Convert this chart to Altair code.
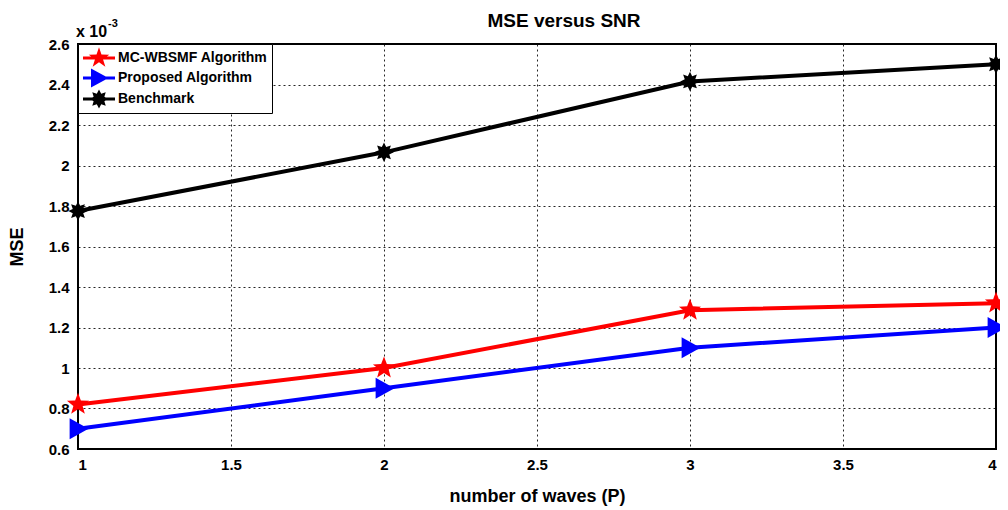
import math
import altair as alt
import pandas as pd

# ---- data (MSE in units of 1e-3) ----
waves = [1, 2, 3, 4]
mc_wbsmf = [0.82, 1.00, 1.285, 1.32]
proposed = [0.70, 0.90, 1.10, 1.20]
benchmark = [1.775, 2.065, 2.415, 2.50]
series_names = ["MC-WBSMF Algorithm", "Proposed Algorithm", "Benchmark"]
series_colors = ["#ff0000", "#0000ff", "#000000"]
x_ticks = [1, 1.5, 2, 2.5, 3, 3.5, 4]
y_ticks = [0.6, 0.8, 1.0, 1.2, 1.4, 1.6, 1.8, 2.0, 2.2, 2.4, 2.6]
chart_title = ["MSE versus SNR"]
exp_base = ["x 10"]
exp_power = ["-3"]

rows = []
for name, vals in zip(series_names, [mc_wbsmf, proposed, benchmark]):
    for xv, yv in zip(waves, vals):
        rows.append({"series": name, "P": xv, "MSE": yv})
df = pd.DataFrame(rows)

FONT = "Liberation Sans"
W, H = 918, 405


def star_path(n, inner, outer=1.0):
    pts = []
    for i in range(2 * n):
        r = outer if i % 2 == 0 else inner
        a = -math.pi / 2 + i * math.pi / n
        pts.append(f"{r * math.cos(a):.3f},{r * math.sin(a):.3f}")
    return "M" + "L".join(pts) + "Z"


star5 = star_path(5, 0.42)
tri_right = "M-0.8,-1L1,0L-0.8,1Z"
aster = star_path(8, 0.58)
marker_paths = [star5, tri_right, aster]
marker_sizes = [540, 440, 380]

# legend symbols: line segment + marker
line_seg = "M-1.6,-0.15H1.6V0.15H-1.6Z"
legend_paths = [
    line_seg + star_path(5, 0.42, 1.08),
    line_seg + "M-0.8,-0.95L0.95,0L-0.8,0.95Z",
    line_seg + star_path(8, 0.58, 0.95),
]

x_enc = alt.X(
    "P:Q",
    scale=alt.Scale(domain=[1, 4], nice=False, zero=False),
    axis=alt.Axis(values=x_ticks, format="~g", title="number of waves (P)",
                  labelPadding=8, titlePadding=15),
)
y_enc = alt.Y(
    "MSE:Q",
    scale=alt.Scale(domain=[0.6, 2.6], nice=False, zero=False),
    axis=alt.Axis(values=y_ticks, format="~g", title="MSE",
                  labelPadding=9, titlePadding=22),
)

layers = []
for i, (name, col, path, sz) in enumerate(zip(series_names, series_colors, marker_paths, marker_sizes)):
    base = alt.Chart(df).transform_filter(alt.datum.series == name)
    line = base.mark_line(strokeWidth=4, color=col)
    if i == 0:
        line = line.encode(x=x_enc, y=y_enc)
    else:
        line = line.encode(x="P:Q", y="MSE:Q")
    pts = base.mark_point(shape=path, filled=True, color=col, size=sz, opacity=1,
                          strokeWidth=0).encode(x="P:Q", y="MSE:Q")
    layers.append(line)
    layers.append(pts)

leg = alt.Legend(
    title=None,
    orient="none",
    legendX=0,
    legendY=0,
    padding=4,
    symbolOffset=7,
    labelOffset=9,
    rowPadding=1,
    symbolSize=400,
    symbolStrokeWidth=0,
    symbolOpacity=1,
    strokeColor="black",
    fillColor="white",
    labelFont=FONT,
    labelFontSize=14,
    labelFontWeight="bold",
    labelColor="black",
    cornerRadius=0,
)

legend_layer = (
    alt.Chart(df)
    .mark_point(filled=True, opacity=0)
    .encode(
        x="P:Q",
        y="MSE:Q",
        fill=alt.Fill("series:N", scale=alt.Scale(domain=series_names, range=series_colors),
                      legend=leg),
        shape=alt.Shape("series:N", scale=alt.Scale(domain=series_names, range=legend_paths),
                        legend=leg),
    )
)

title_text = alt.Chart(pd.DataFrame({"t": chart_title})).mark_text(
    align="center", baseline="alphabetic", font=FONT, fontSize=19, fontWeight="bold", color="black"
).encode(x=alt.value(486), y=alt.value(-17), text="t:N")
exp_text = alt.Chart(pd.DataFrame({"t": exp_base})).mark_text(
    align="left", baseline="alphabetic", font=FONT, fontSize=16, fontWeight="bold", color="black"
).encode(x=alt.value(-2), y=alt.value(-7), text="t:N")
exp_pow = alt.Chart(pd.DataFrame({"t": exp_power})).mark_text(
    align="left", baseline="alphabetic", font=FONT, fontSize=11, fontWeight="bold", color="black"
).encode(x=alt.value(30), y=alt.value(-17), text="t:N")

chart = (
    alt.layer(*layers, legend_layer, title_text, exp_text, exp_pow)
    .properties(
        width=W,
        height=H,
        autosize=alt.AutoSizeParams(type="none"),
        padding={"left": 70, "top": 36, "right": 4, "bottom": 57},
    )
    .configure_view(stroke="black", strokeWidth=2)
    .configure_axis(
        domain=False,
        ticks=False,
        grid=True,
        gridColor="black",
        gridDash=[2, 3],
        gridWidth=1,
        gridOpacity=0.85,
        labelFont=FONT,
        labelFontSize=15,
        labelFontWeight="bold",
        labelColor="black",
        titleFont=FONT,
        titleFontSize=18,
        titleFontWeight="bold",
        titleColor="black",
    )
)

chart.save("out.html", embed_options={"renderer": "svg", "actions": False})
